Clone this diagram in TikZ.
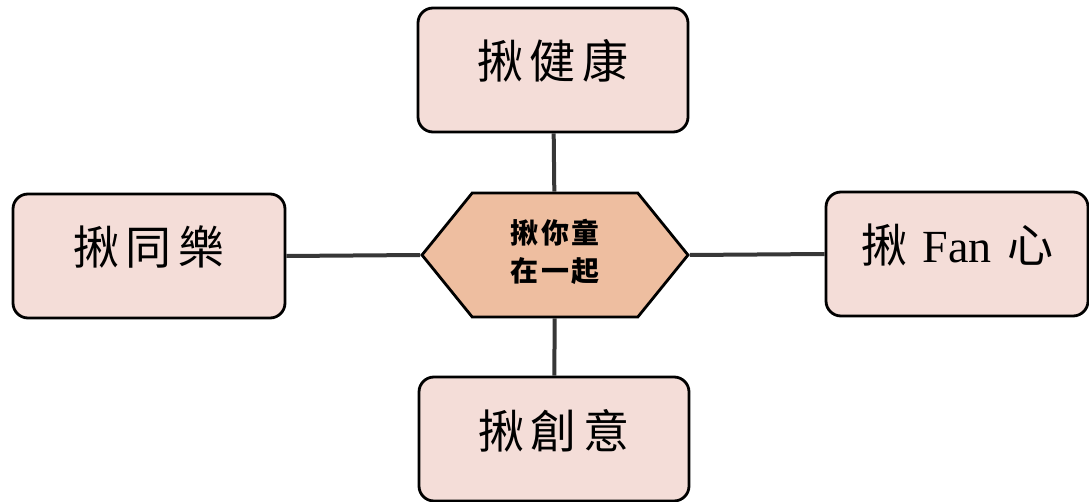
\documentclass[tikz,border=0pt]{standalone}
\usepackage{fontspec}
\setmainfont{Liberation Serif}
\newfontfamily\cjk{Noto Sans CJK TC}
\usetikzlibrary{shapes.symbols}
\definecolor{boxpink}{RGB}{244,221,216}
\definecolor{hubpeach}{RGB}{238,190,160}
\definecolor{linkgray}{RGB}{55,55,55}
\newcommand{\gap}{\hspace{7pt}}

\begin{document}
\begin{tikzpicture}
[every node/.style={inner sep=0pt},
 topic/.style={rectangle, rounded corners=15pt, minimum width=270pt, minimum height=124pt, fill=boxpink, line width=2.8pt, draw=black, text height=40pt, text depth=22pt, font=\fontsize{46}{50}\selectfont},
 hub/.style={signal, signal to=west and east, signal pointer angle=102, minimum width=266pt, minimum height=124pt, fill=hubpeach, line width=2.8pt, draw=black, font=\cjk\bfseries\fontsize{28}{38}\selectfont},
 link/.style={line width=4pt, color=linkgray}]
\useasboundingbox (0pt, 0pt) rectangle (1089pt, -502pt);
\node (hub) [hub] at (555pt, -255pt) {\raisebox{8pt}{\begin{tabular}{@{}c@{}}揪\hspace{3pt}你\hspace{3pt}童\\在\hspace{3pt}一\hspace{3pt}起\end{tabular}}};
\node (health) [topic] at (553pt, -70pt) {\cjk 揪\gap 健\gap 康};
\node (joy) [topic, minimum width=272pt] at (149pt, -256pt) {\cjk 揪\gap 同\gap 樂};
\node (fan) [topic, minimum width=262pt] at (957pt, -254pt) {{\cjk 揪}\hspace{4pt} Fan \hspace{4pt}{\cjk 心}};
\node (idea) [topic] at (554pt, -439pt) {\cjk 揪\gap 創\gap 意};
\draw [link] (health) -- (hub);
\draw [link] (hub) -- (idea);
\draw [link] (joy.east) -- (hub.west);
\draw [link] (hub.east) -- (fan.west);
\end{tikzpicture}
\end{document}
